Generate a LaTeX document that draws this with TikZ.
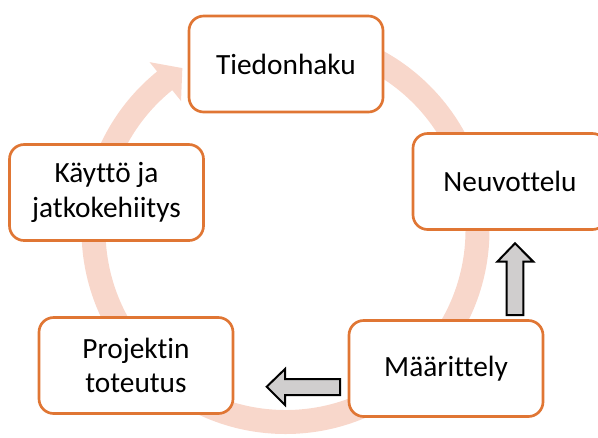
\documentclass[tikz,border=0pt]{standalone}
\usepackage{fontspec}
\setmainfont[Ligatures=NoCommon]{Carlito}
\begin{document}
\begin{tikzpicture}[x=0.75pt,y=-0.75pt,
  stage/.style={draw=stageline, line width=2pt, fill=white, rounded corners=11pt,
    minimum width=145.5pt, minimum height=72pt, align=center, inner sep=2pt,
    font=\fontsize{22}{26}\selectfont, text=black},
  blockarrow/.style={draw=black, line width=1.5pt, fill=arrowgray, line join=miter}]
\definecolor{stageline}{RGB}{224,118,52}
\definecolor{ringcol}{RGB}{248,215,203}
\definecolor{arrowgray}{RGB}{208,206,206}
\useasboundingbox (0,0) rectangle (598,437);
\clip (0,0) rectangle (598,437);

% circular flow arrow behind the stages
\begin{scope}[shift={(285.5,230)}, yscale=-1]
  \fill[ringcol] (90:204) arc[start angle=90, end angle=-231, radius=204]
    -- (-231:216) -- (-237.5:192) -- (-231:166) -- (-231:180)
    arc[start angle=-231, end angle=90, radius=180] -- cycle;
\end{scope}

% stages
\node[stage] (haku)  at (286,64)    {Tiedonhaku};
\node[stage] (neuvo) at (510,181.5) {Neuvottelu};
\node[stage] (maar)  at (446,368.5) {Määrittely};
\node[stage] (proj)  at (136,365.5) {Projektin\\toteutus};
\node[stage] (kaytto) at (106.5,192.5) {Käyttö ja\\jatkokehiitys};

% block arrows between stages
\coordinate (upbase) at (515,315);
\coordinate (uptip) at (515,243.3);
\draw[blockarrow] (uptip) -- (533.3,261.7) -- (523.3,261.7) -- (523.3,315)
  -- (506.7,315) -- (506.7,261.7) -- (497.3,261.7) -- cycle;
\coordinate (lftip) at (266.7,386.7);
\draw[blockarrow] (lftip) -- (285,369) -- (285,379) -- (340,379)
  -- (340,395) -- (285,395) -- (285,405) -- cycle;
\end{tikzpicture}
\end{document}
